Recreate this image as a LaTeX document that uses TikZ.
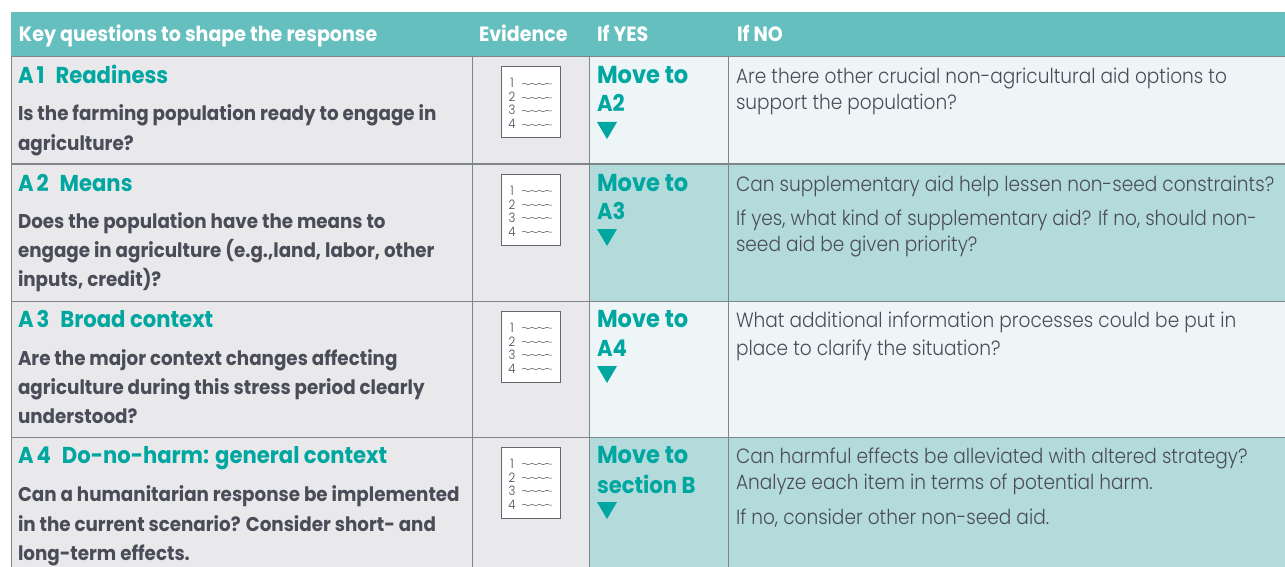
\documentclass[tikz,border=0pt]{standalone}
\usepackage{fontspec}
\usetikzlibrary{decorations.pathmorphing}
\setmainfont{Poppins}
\newfontfamily\rg[FakeStretch=0.90]{Poppins Light}
\newfontfamily\bd[FakeStretch=0.92]{Poppins Bold}
\definecolor{headc}{HTML}{66BFBF}
\definecolor{grayc}{HTML}{E9E9EB}
\definecolor{lightc}{HTML}{EDF5F7}
\definecolor{midc}{HTML}{B4DBDB}
\definecolor{tealc}{HTML}{00A6A0}
\definecolor{textc}{HTML}{4A4C57}
\definecolor{linec}{HTML}{80858A}
\tikzset{
 every node/.style={inner sep=0pt,outer sep=0pt,anchor=base west},
 headt/.style={font=\bd\fontsize{20.7}{20.7}\selectfont,text=white},
 titlet/.style={font=\bd\fontsize{23}{23}\selectfont,text=tealc},
 movet/.style={font=\bd\fontsize{24.5}{24.5}\selectfont,text=tealc},
 questt/.style={font=\bd\fontsize{19.9}{19.9}\selectfont,text=textc},
 bodyt/.style={font=\rg\fontsize{20.6}{20.6}\selectfont,text=textc},
 rule/.style={draw=linec,line width=1pt},
 numt/.style={font=\rg\fontsize{13}{13}\selectfont,text=textc,anchor=base},
 wave/.style={draw=textc,line width=0.5pt,decorate,decoration={snake,amplitude=0.7pt,segment length=7.5pt}},
 tri/.style={fill=tealc,draw=none}
}
\newcommand{\docicon}[2]{%
 \node[draw=textc!85,fill=white,line width=1pt,minimum width=59pt,minimum height=71pt,anchor=north west] (#1) at (501,#2) {};
 \foreach \n/\dy in {1/21,2/35,3/48,4/62}{
  \node[numt] (#1n\n) at (512,#2+\dy) {\n};
  \coordinate (#1a\n) at (522,#2+\dy-4);
  \coordinate (#1b\n) at (552,#2+\dy-4);
  \draw[wave] (#1a\n) -- (#1b\n);
 }}
\newcommand{\tridown}[1]{\fill[tri] (597,#1) -- (617,#1) -- (607,#1+17) -- cycle;}
\begin{document}
\begin{tikzpicture}[x=1pt,y=-1pt]
\useasboundingbox (0,0) rectangle (1285,567);
\fill[white] (0,0) rectangle (1285,567);
% fills
\fill[headc] (11,12) rectangle (1285,57);
\fill[grayc] (11,57) rectangle (589,567);
\fill[lightc] (589,57) rectangle (1285,164);
\fill[midc] (589,164) rectangle (1285,301);
\fill[lightc] (589,301) rectangle (1285,437);
\fill[midc] (589,437) rectangle (1285,567);
% rules
\draw[rule] (11,57) -- (1285,57);
\draw[rule] (11,164) -- (1285,164);
\draw[rule] (11,301) -- (1285,301);
\draw[rule] (11,437) -- (1285,437);
\draw[rule] (11,57) -- (11,567);
\draw[rule] (472,57) -- (472,567);
\draw[rule] (589,57) -- (589,567);
\draw[rule] (728,57) -- (728,567);
% header
\node[headt] (h1) at (19,42) {Key questions to shape the response};
\node[headt] (h2) at (479,42) {Evidence};
\node[headt] (h3) at (597,42) {If YES};
\node[headt] (h4) at (737,42) {If NO};
% row 1
\node[titlet] (a1) at (18,84) {A\hspace{3pt}1\hspace{11pt}Readiness};
\node[questt] (a1q1) at (18,121) {Is the farming population ready to engage in};
\node[questt] (a1q2) at (18,150) {agriculture?};
\docicon{d1}{67}
\node[movet] (y1a) at (597,84) {Move to};
\node[titlet] (y1b) at (597,112) {A2};
\tridown{122}
\node[bodyt] (n1a) at (736,84) {Are there other crucial non-agricultural aid options to};
\node[bodyt] (n1b) at (736,110) {support the population?};
% row 2
\node[titlet] (a2) at (18,191) {A\hspace{3pt}2\hspace{11pt}Means};
\node[questt] (a2q1) at (18,228) {Does the population have the means to};
\node[questt] (a2q2) at (18,257) {engage in agriculture (e.g.,land, labor, other};
\node[questt] (a2q3) at (18,286) {inputs, credit)?};
\docicon{d2}{174}
\node[movet] (y2a) at (597,191) {Move to};
\node[titlet] (y2b) at (597,219) {A3};
\tridown{229}
\node[bodyt] (n2a) at (736,191) {Can supplementary aid help lessen non-seed constraints?};
\node[bodyt] (n2b) at (736,225) {If yes, what kind of supplementary aid? If no, should non-};
\node[bodyt] (n2c) at (736,251) {seed aid be given priority?};
% row 3
\node[titlet] (a3) at (18,327) {A\hspace{3pt}3\hspace{11pt}Broad context};
\node[questt] (a3q1) at (18,365) {Are the major context changes affecting};
\node[questt] (a3q2) at (18,394) {agriculture during this stress period clearly};
\node[questt] (a3q3) at (18,423) {understood?};
\docicon{d3}{311}
\node[movet] (y3a) at (597,327) {Move to};
\node[titlet] (y3b) at (597,356) {A4};
\tridown{366}
\node[bodyt] (n3a) at (736,327) {What additional information processes could be put in};
\node[bodyt] (n3b) at (736,355) {place to clarify the situation?};
% row 4
\node[titlet] (a4) at (18,463) {A\hspace{3pt}4\hspace{11pt}Do-no-harm: general context};
\node[questt] (a4q1) at (18,501) {Can a humanitarian response be implemented};
\node[questt] (a4q2) at (18,531) {in the current scenario? Consider short- and};
\node[questt] (a4q3) at (18,560) {long-term effects.};
\docicon{d4}{447}
\node[movet] (y4a) at (597,463) {Move to};
\node[titlet] (y4b) at (597,493) {section B};
\tridown{502}
\node[bodyt] (n4a) at (736,463) {Can harmful effects be alleviated with altered strategy?};
\node[bodyt] (n4b) at (736,489) {Analyze each item in terms of potential harm.};
\node[bodyt] (n4c) at (736,524) {If no, consider other non-seed aid.};
\end{tikzpicture}
\end{document}
